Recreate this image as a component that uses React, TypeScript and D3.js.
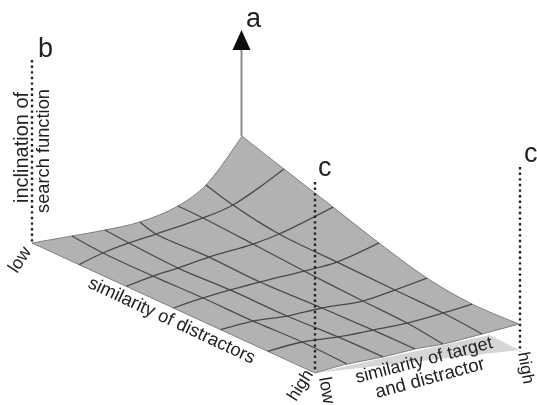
import * as d3 from 'd3';

// grid positions along the "similarity of distractors" axis
const distractorTicks = [0, 1 / 6, 2 / 6, 3 / 6, 4 / 6, 5 / 6, 1];

// target similarity of every grid node, one row per distractor tick
const targetGrid = [
  [0, 0.195, 0.356, 0.527, 0.712, 0.849, 1.024],
  [0, 0.116, 0.243, 0.375, 0.604, 0.75, 0.999],
  [0, 0.13, 0.252, 0.403, 0.618, 0.745, 1.008],
  [0, 0.144, 0.276, 0.422, 0.637, 0.798, 1.002],
  [0, 0.158, 0.324, 0.494, 0.694, 0.85, 1.006],
  [0, 0.167, 0.342, 0.513, 0.679, 0.855, 0.996],
  [0, 0.156, 0.332, 0.488, 0.624, 0.815, 0.995],
];

// inclination of the search function at every grid node
const inclination = [
  [0, 2.5, 4.8, 8.9, 20.6, 38.5, 83.4],
  [0, 9, 16.1, 22, 32.8, 42.4, 72.7],
  [0, 7.3, 12.5, 20, 28.1, 35.2, 56.1],
  [0, 6.7, 11.7, 16.3, 22.3, 27.6, 42],
  [0, 5, 6.2, 10.3, 12.7, 20.1, 28.5],
  [0, 5.5, 6.5, 9.5, 12.7, 18.7, 24.4],
  [0, 5.4, 8.4, 12.8, 14.6, 20.3, 26.1],
];

// shadow of the surface on the floor: distractor, target, inclination
const floorTriangle: [number, number, number][] = [
  [1, 0, 0],
  [1, 0.995, 0],
  [0.886, 1.01, 0],
];

const FONT = '"Liberation Sans", Arial, sans-serif';

// oblique projection of the three axes onto the page
const xByDistractor = d3.scaleLinear().domain([0, 1]).range([0, 283]);
const yByDistractor = d3.scaleLinear().domain([0, 1]).range([0, 130]);
const xByTarget = d3.scaleLinear().domain([0, 1]).range([0, 205]);
const yByTarget = d3.scaleLinear().domain([0, 1]).range([0, -23]);
const yByInclination = d3.scaleLinear().domain([0, 100]).range([0, -100]);

type P = [number, number];
const project = (u: number, v: number, z: number): P => [
  32 + xByDistractor(u) + xByTarget(v),
  243 + yByDistractor(u) + yByTarget(v) + yByInclination(z),
];

const rows = d3.range(7);
const node = (i: number, j: number) => project(distractorTicks[i], targetGrid[i][j], inclination[i][j]);

const curve = d3.line<P>().curve(d3.curveCatmullRom.alpha(0.5));

// closed outline, walking around the four edges of the surface
const edgeTop = rows.map((j) => node(0, j));
const edgeRight = rows.map((i) => node(i, 6));
const edgeFront = rows.map((j) => node(6, 6 - j));
const edgeLeft = rows.map((i) => node(6 - i, 0));
const outline =
  [edgeTop, edgeRight, edgeFront, edgeLeft]
    .map((e, k) => {
      const d = curve(e) || '';
      return k === 0 ? d : 'L' + d.slice(1);
    })
    .join(' ') + 'Z';

const triangle = d3.line<[number, number, number]>()
  .x((d) => project(d[0], d[1], d[2])[0])
  .y((d) => project(d[0], d[1], d[2])[1]);

function Label({ x, y, angle = 0, size = 18, children }: { x: number; y: number; angle?: number; size?: number; children: string }) {
  return (
    <text x={0} y={0} transform={`translate(${x},${y}) rotate(${angle})`} fontSize={size} fontFamily={FONT} fill="#222">
      {children}
    </text>
  );
}

export default function App() {
  const dots = { stroke: '#222', strokeWidth: 2.4, strokeDasharray: '2.4 3.2', fill: 'none' };
  return (
    <svg width={537} height={405} style={{ position: 'absolute', left: 0, top: 0, background: '#fff' }}>
      <defs>
        <filter id="soft" x="-5%" y="-5%" width="110%" height="110%">
          <feGaussianBlur stdDeviation={0.45} />
        </filter>
      </defs>
      <g filter="url(#soft)">
        <path d={(triangle(floorTriangle) || '') + 'Z'} fill="#d6d6d6" />
        <path d={outline} fill="#b2b2b2" stroke="#7d7d7d" strokeWidth={1} />
        {rows.slice(1, 6).map((i) => (
          <path key={'u' + i} d={curve(rows.map((j) => node(i, j))) || ''} fill="none" stroke="#4a4a4a" strokeWidth={1.3} />
        ))}
        {rows.slice(1, 6).map((j) => (
          <path key={'v' + j} d={curve(rows.map((i) => node(i, j))) || ''} fill="none" stroke="#4a4a4a" strokeWidth={1.3} />
        ))}

        <line x1={241.5} y1={136} x2={241.5} y2={48} stroke="#808080" strokeWidth={1.8} />
        <path d="M241.5 30L232.5 50L250.5 50Z" fill="#111" />

        <line x1={32} y1={60} x2={32} y2={243} {...dots} />
        <line x1={315} y1={182} x2={315} y2={372} {...dots} />
        <line x1={520} y1={167} x2={520} y2={352} {...dots} />

        <Label x={246} y={27} size={27}>a</Label>
        <Label x={38} y={57} size={27}>b</Label>
        <Label x={318} y={176} size={27}>c</Label>
        <Label x={524} y={162} size={27}>c</Label>

        <Label x={28} y={203} angle={-90} size={20}>inclination of</Label>
        <Label x={49} y={213} angle={-90} size={18.3}>search function</Label>
        <Label x={87} y={287} angle={25} size={18.4}>similarity of distractors</Label>
        <Label x={357} y={383} angle={-14.5} size={18}>similarity of target</Label>
        <Label x={377} y={398} angle={-15} size={18.6}>and distractor</Label>
        <Label x={17} y={274} angle={-57} size={18}>low</Label>
        <Label x={296} y={402} angle={-58} size={17.5}>high</Label>
        <Label x={319} y={378} angle={80} size={18}>low</Label>
        <Label x={518} y={353} angle={80} size={17}>high</Label>
      </g>
    </svg>
  );
}
